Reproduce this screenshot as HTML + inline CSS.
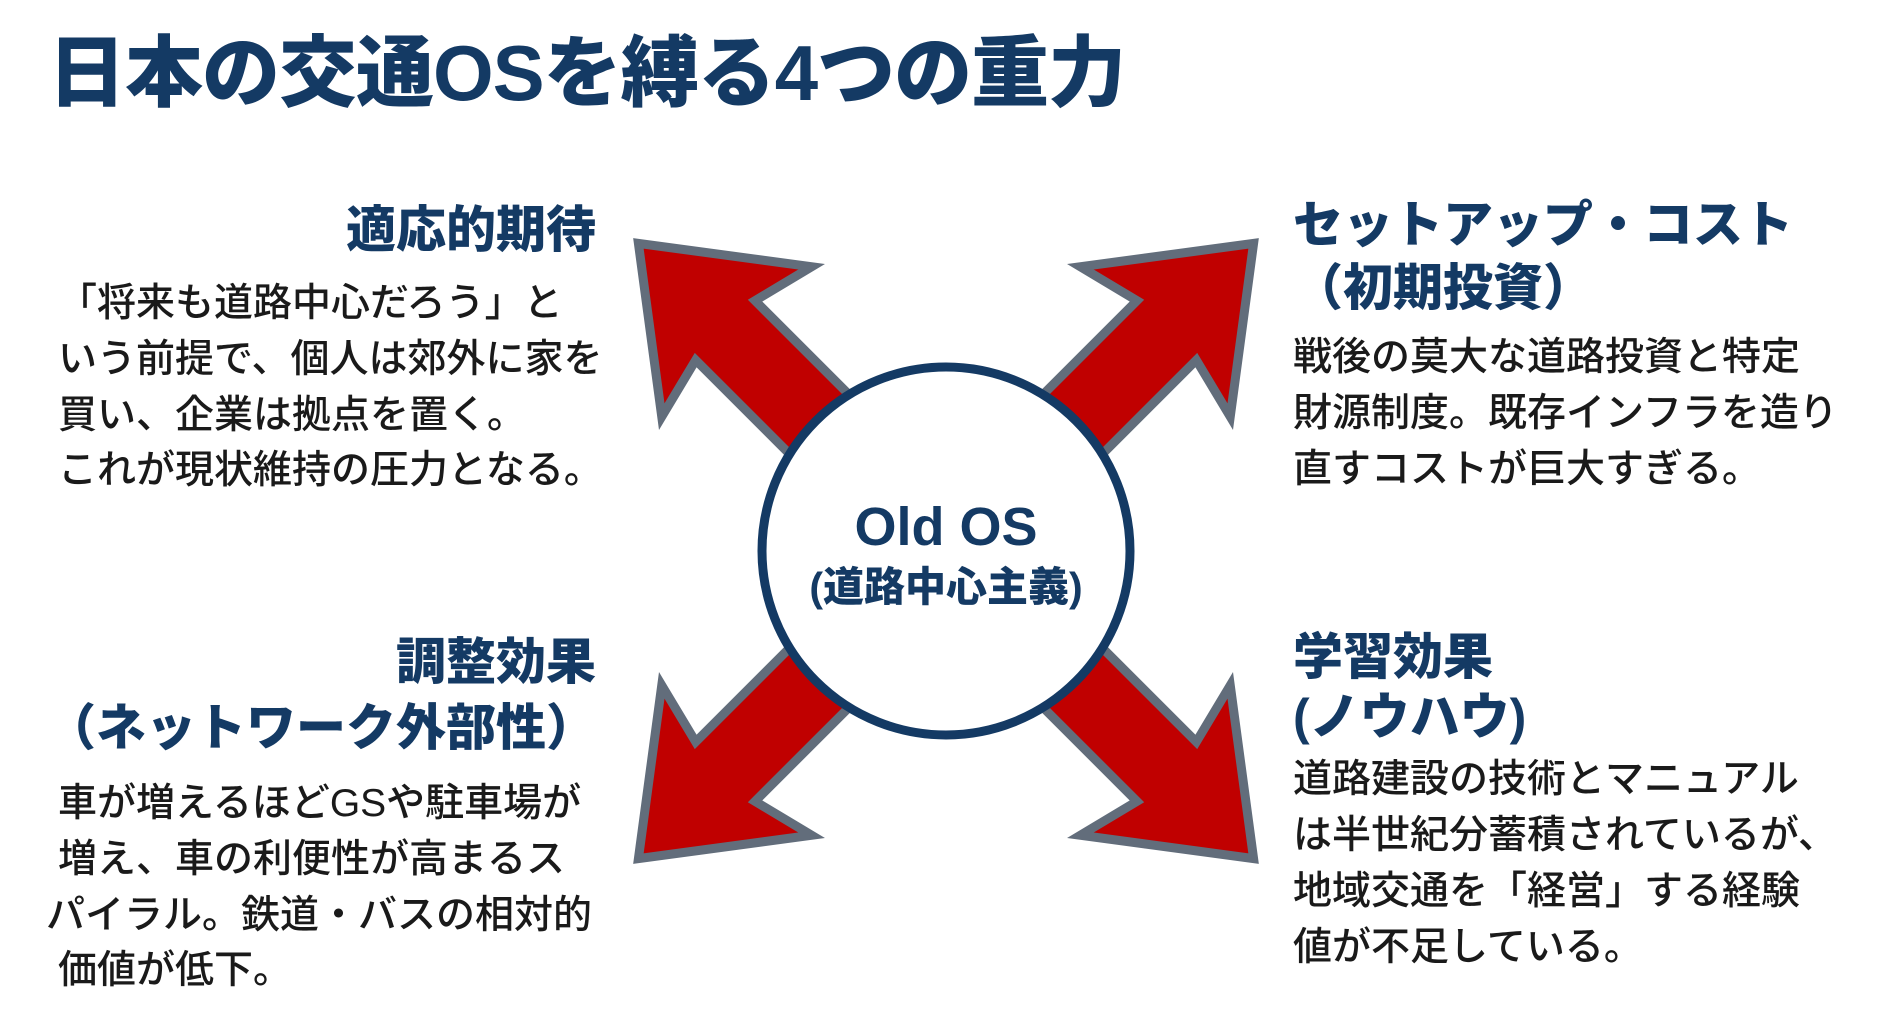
<!DOCTYPE html>
<html><head><meta charset="utf-8"><style>
html,body{margin:0;padding:0;background:#fff;}
body{width:1880px;height:1012px;position:relative;overflow:hidden;font-family:"Liberation Sans","Noto Sans CJK JP",sans-serif;}
.t{position:absolute;white-space:nowrap;line-height:1;}
.h{color:#143a64;font-weight:900;font-size:50px;}
.b{color:#1a1a1a;font-weight:500;font-size:39px;}
.r{text-align:right;}
</style></head><body>
<div class="t" style="left:48px;top:34px;font-size:78px;font-weight:900;color:#143a64;letter-spacing:-1px;">日本の交通OSを縛る4つの重力</div>

<svg width="1880" height="1012" style="position:absolute;left:0;top:0">
<defs>
<polygon id="ar" points="150,-42 312,-42 296,-106 435,0 296,106 312,42 150,42" fill="#c00000" stroke="#626d7b" stroke-width="9" stroke-linejoin="miter"/>
</defs>
<g transform="translate(946,551)">
<use href="#ar" transform="rotate(-135)"/>
<use href="#ar" transform="rotate(-45)"/>
<use href="#ar" transform="rotate(135)"/>
<use href="#ar" transform="rotate(45)"/>
<circle r="184" fill="#fff" stroke="#143a64" stroke-width="9"/>
</g>
</svg>
<div class="t" style="left:746px;width:400px;text-align:center;top:500px;font-size:54px;font-weight:900;color:#143a64;">Old OS</div>
<div class="t" style="left:746px;width:400px;text-align:center;top:567px;font-size:41px;font-weight:900;color:#143a64;">(道路中心主義)</div>

<div class="t h r" style="right:1284px;top:205px;">適応的期待</div>
<div class="t b" style="left:58px;top:284px;">「将来も道路中心だろう」と</div>
<div class="t b" style="left:58px;top:340px;">いう前提で、個人は郊外に家を</div>
<div class="t b" style="left:58px;top:396px;">買い、企業は拠点を置く。</div>
<div class="t b" style="left:58px;top:451px;">これが現状維持の圧力となる。</div>

<div class="t h" style="left:1293px;top:200px;">セットアップ・コスト</div>
<div class="t h" style="left:1293px;top:263px;">（初期投資）</div>
<div class="t b" style="left:1293px;top:338px;">戦後の莫大な道路投資と特定</div>
<div class="t b" style="left:1293px;top:394px;">財源制度。既存インフラを造り</div>
<div class="t b" style="left:1293px;top:450px;">直すコストが巨大すぎる。</div>

<div class="t h r" style="right:1284px;top:637px;">調整効果</div>
<div class="t h r" style="right:1284px;top:703px;">（ネットワーク外部性）</div>
<div class="t b" style="left:58px;top:784px;">車が増えるほどGSや駐車場が</div>
<div class="t b" style="left:58px;top:840px;">増え、車の利便性が高まるス</div>
<div class="t b" style="left:46px;top:896px;">パイラル。鉄道・バスの相対的</div>
<div class="t b" style="left:58px;top:951px;">価値が低下。</div>

<div class="t h" style="left:1293px;top:632px;">学習効果</div>
<div class="t h" style="left:1293px;top:692px;">(ノウハウ)</div>
<div class="t b" style="left:1293px;top:760px;">道路建設の技術とマニュアル</div>
<div class="t b" style="left:1293px;top:816px;">は半世紀分蓄積されているが、</div>
<div class="t b" style="left:1293px;top:872px;">地域交通を「経営」する経験</div>
<div class="t b" style="left:1293px;top:928px;">値が不足している。</div>
</body></html>
